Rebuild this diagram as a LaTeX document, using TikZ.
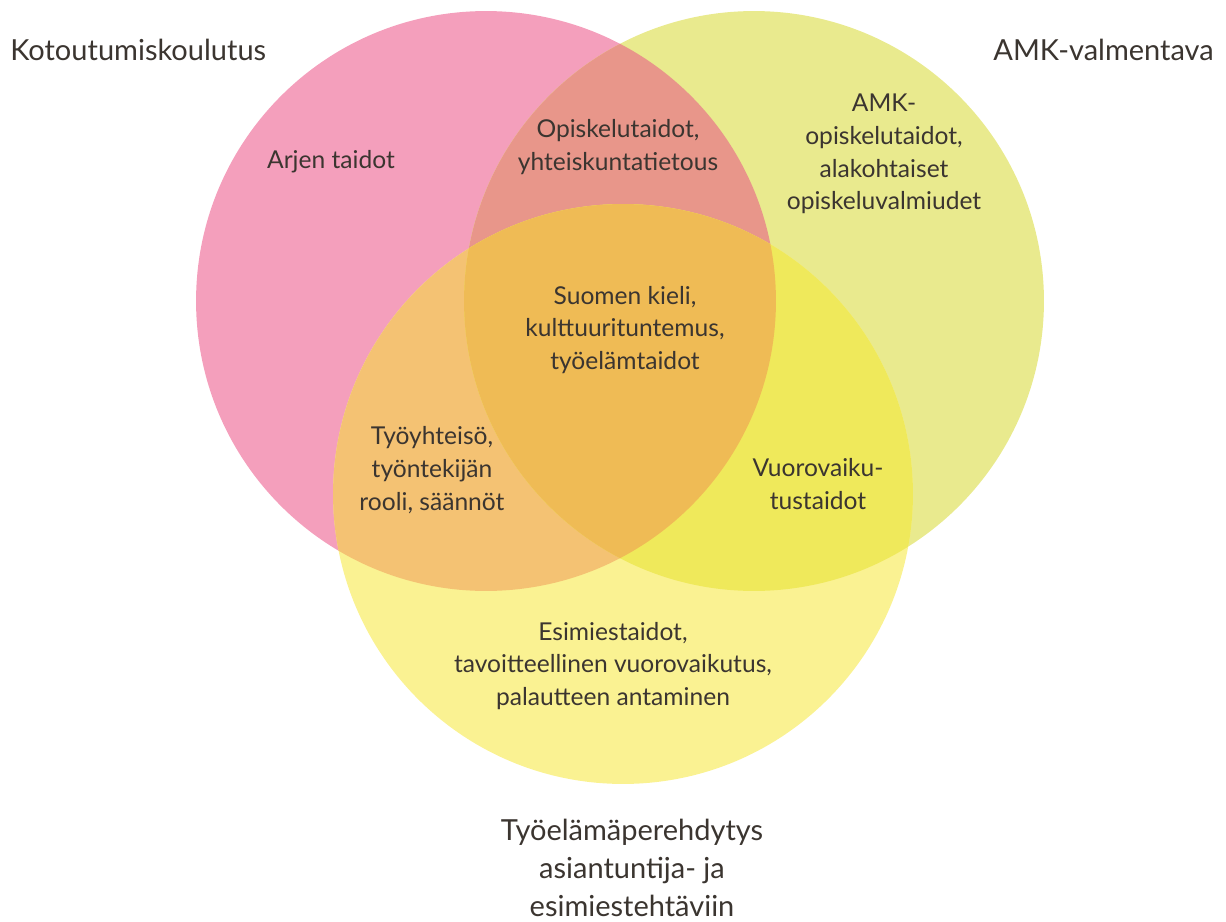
\documentclass[tikz,border=0pt]{standalone}
\usepackage{fontspec}
\setmainfont{Lato}
\usepackage{tikz}

\definecolor{kotopink}{HTML}{F49FBC}
\definecolor{amkgreen}{HTML}{E9EA8E}
\definecolor{tyoyellow}{HTML}{FAF292}
\definecolor{kotoamk}{HTML}{E8968A}
\definecolor{kototyo}{HTML}{F4C273}
\definecolor{amktyo}{HTML}{EFE95B}
\definecolor{kaikki}{HTML}{EFBB55}
\definecolor{tekstic}{HTML}{3B3530}

\begin{document}
\begin{tikzpicture}[x=0.02cm,y=-0.02cm,
    txt/.style={text=tekstic,align=center,font=\fontsize{14}{18.7}\selectfont,inner sep=0pt},
    otsikko/.style={text=tekstic,align=center,font=\fontsize{16.5}{21.8}\selectfont,inner sep=0pt}]
        \useasboundingbox (0,0) rectangle (1226,922);

        \coordinate (P) at (486,301);
        \coordinate (G) at (754,301);
        \coordinate (Y) at (623,494);

        % circles
        \fill[kotopink]  (P) circle (5.8cm);
        \fill[amkgreen]  (G) circle (5.8cm);
        \fill[tyoyellow] (Y) circle (5.8cm);

        % overlaps
        \begin{scope}
            \clip (P) circle (5.8cm);
            \fill[kotoamk] (G) circle (5.8cm);
        \end{scope}
        \begin{scope}
            \clip (P) circle (5.8cm);
            \fill[kototyo] (Y) circle (5.8cm);
        \end{scope}
        \begin{scope}
            \clip (G) circle (5.8cm);
            \fill[amktyo] (Y) circle (5.8cm);
        \end{scope}
        \begin{scope}
            \clip (P) circle (5.8cm);
            \clip (G) circle (5.8cm);
            \fill[kaikki] (Y) circle (5.8cm);
        \end{scope}

        % titles
        \node[otsikko,anchor=west] (koto) at (10,50) {Kotoutumiskoulutus};
        \node[otsikko,anchor=east] (amk)  at (1214,50) {AMK-valmentava};
        \node[otsikko] (tyo) at (632,868) {Työelämäperehdytys\\asiantuntija- ja\\esimiestehtäviin};

        % region texts
        \node[txt] (arki)    at (331,162) {Arjen taidot};
        \node[txt] (opisk)   at (618,147) {Opiskelutaidot,\\yhteiskuntatietous};
        \node[txt] (amkopi)  at (884,154) {AMK-\\opiskelutaidot,\\alakohtaiset\\opiskeluvalmiudet};
        \node[txt] (suomi)   at (625,330) {Suomen kieli,\\kulttuurituntemus,\\työelämtaidot};
        \node[txt] (yhteiso) at (432,470) {Työyhteisö,\\työntekijän\\rooli, säännöt};
        \node[txt] (vuoro)   at (818,484) {Vuorovaiku-\\tustaidot};
        \node[txt] (esimies) at (613,666) {Esimiestaidot,\\tavoitteellinen vuorovaikutus,\\palautteen antaminen};
    \end{tikzpicture}
\end{document}
